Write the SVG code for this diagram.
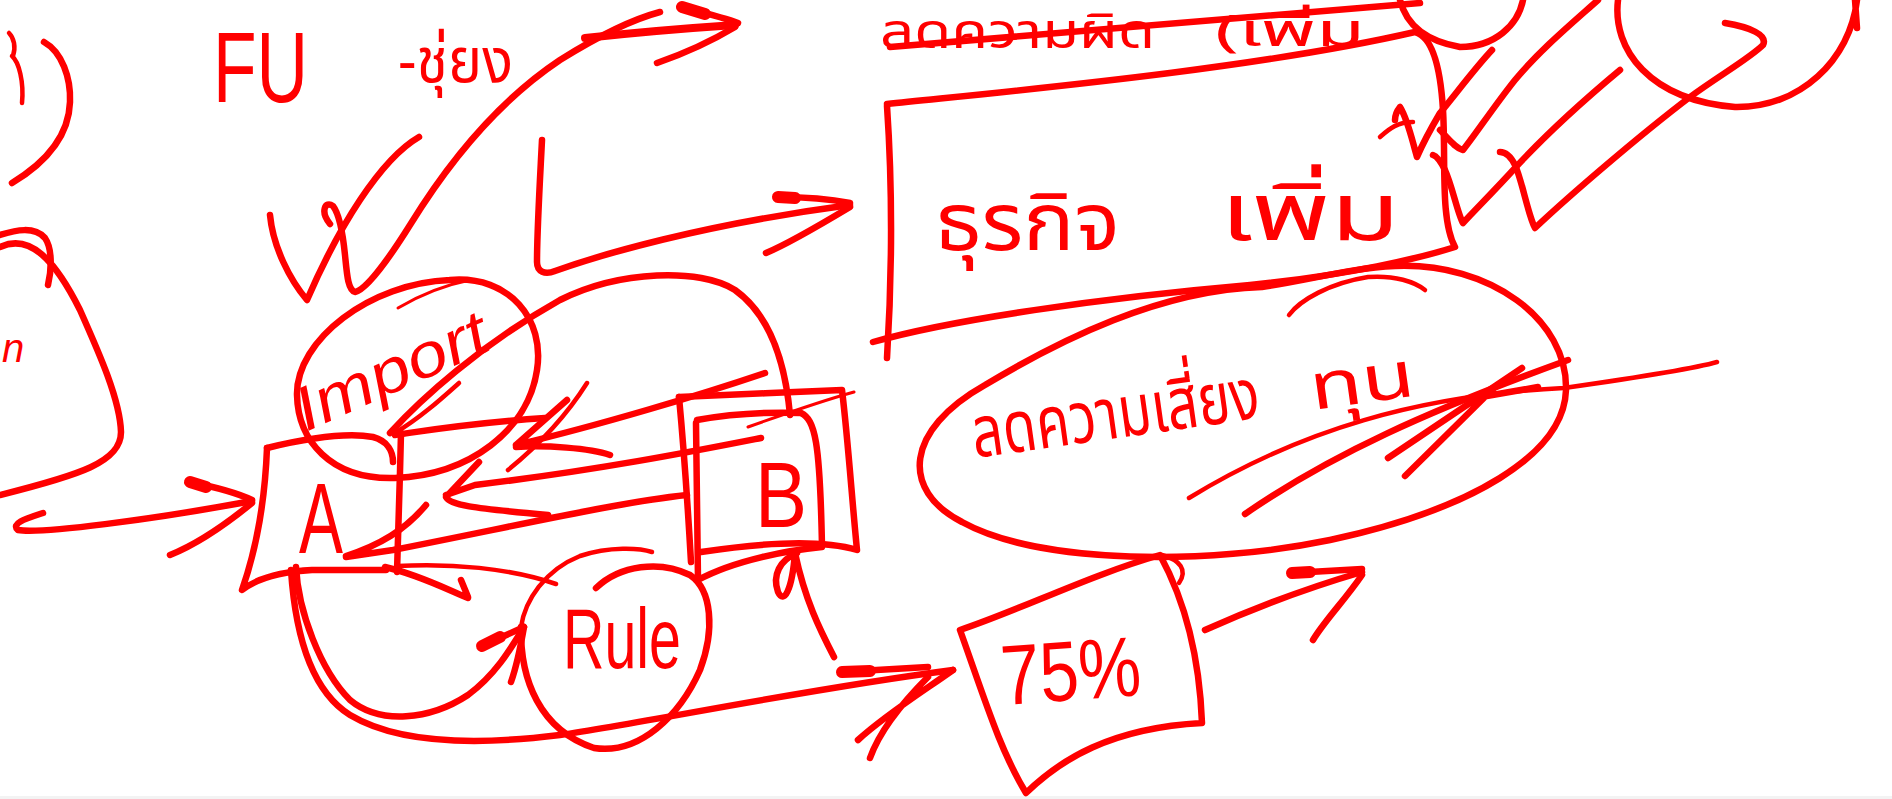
<svg xmlns="http://www.w3.org/2000/svg" width="1892" height="799" viewBox="0 0 1892 799">
<style>
.s{fill:none;stroke:#ff0000;stroke-linecap:round;stroke-linejoin:round}
.w2{stroke-width:3}.w3{stroke-width:4.5}.w5{stroke-width:6.5}.w7{stroke-width:8}.w10{stroke-width:12}
.t{fill:#ff0000;font-family:'Liberation Sans','DejaVu Sans',sans-serif}
.th{fill:#ff0000;font-family:'Noto Sans Thai','Noto Sans','DejaVu Sans',sans-serif}
</style>
<rect x="0" y="0" width="1892" height="799" fill="#ffffff"/>
<rect x="0" y="796" width="1892" height="3" fill="#f3f3f3"/>

<g id="left-fragments">
<path class="s w3" d="M9,33 C14,38 16,47 13,56 M12,56 C19,62 24,82 22,103"/>
<path class="s w5" d="M44,42 C62,52 71,78 70,102 C69,132 50,160 12,183"/>
<path class="s w5" d="M0,235 C16,230 34,226 45,238 C52,248 52,268 48,285"/>
<path class="s w5" d="M0,247 C30,233 55,260 80,310 C100,355 120,400 121,432 C121,462 80,475 0,495"/>
<text class="t" x="2" y="362" font-size="40" font-style="italic">n</text>
</g>

<g id="title-fu">
<text class="t" x="213" y="102" font-size="100" textLength="95" lengthAdjust="spacingAndGlyphs">FU</text>
<text class="th" x="398" y="82" font-size="62" textLength="115" lengthAdjust="spacingAndGlyphs">-ชุ่ยง</text>
</g>

<g id="node-box-top">
<path class="s w5" d="M887,104 C1000,92 1250,70 1415,32 C1430,36 1440,60 1443,110 C1446,160 1440,220 1455,247 C1420,258 1350,275 1250,285 C1100,298 950,320 873,342"/>
<path class="s w5" d="M887,106 C892,180 893,260 887,358"/>
<text class="th" x="935" y="250" font-size="80" textLength="185" lengthAdjust="spacingAndGlyphs">ธุรกิจ</text>
<text class="th" x="1220" y="240" font-size="80" textLength="180" lengthAdjust="spacingAndGlyphs">เพิ่ม</text>
</g>

<g id="struck-text">
<text class="th" x="880" y="48" font-size="48" textLength="275" lengthAdjust="spacingAndGlyphs">ลดความผิด</text>
<text class="th" x="1215" y="46" font-size="44" textLength="150" lengthAdjust="spacingAndGlyphs">(เพิ่ม</text>
<path class="s w5" d="M890,47 L1420,3"/>
</g>

<g id="node-top-circles">
<path class="s w5" d="M1400,0 C1405,20 1420,40 1460,47 C1495,47 1518,25 1523,0"/>
<path class="s w5" d="M1618,0 C1612,50 1650,100 1735,107 C1800,108 1850,60 1857,0 M1855,0 L1857,28"/>
</g>

<g id="node-import">
<path class="s w5" d="M450,280 C510,275 545,320 537,370 C528,430 470,475 395,478 C330,480 298,440 297,395 C296,340 370,283 450,280"/>
<path class="s w2" d="M398,308 C420,295 445,285 470,280"/>
<text class="t" x="306" y="432" font-size="62" font-style="italic" textLength="205" lengthAdjust="spacingAndGlyphs" transform="rotate(-24 306 432)">Import</text>
</g>

<g id="node-a">
<path class="s w5" d="M267,448 C300,440 345,432 373,437 C388,441 393,452 393,462"/>
<path class="s w5" d="M267,448 C265,500 256,550 242,590 C255,580 275,572 312,570 L386,570"/>
<text class="t" x="299" y="553" font-size="100" textLength="44" lengthAdjust="spacingAndGlyphs">A</text>
</g>

<g id="node-b">
<path class="s w5" d="M679,397 C730,395 790,392 842,390 C848,440 852,500 857,550 C830,542 780,540 701,552"/>
<path class="s w5" d="M679,397 C684,450 688,510 691,562"/>
<path class="s w5" d="M697,420 C730,414 770,412 801,413 C815,420 820,440 822,547 C790,550 735,560 698,580 L696,423"/>
<text class="t" x="755" y="527" font-size="92" textLength="52" lengthAdjust="spacingAndGlyphs">B</text>
</g>

<g id="node-rule">
<path class="s w5" d="M521,627 C520,680 540,730 594,748 C640,755 680,715 700,670 C715,630 712,590 690,575 C660,560 620,565 596,588"/>
<path class="s w3" d="M521,627 C525,600 545,570 580,556 C610,546 640,548 652,552"/>
<text class="t" x="563" y="668" font-size="85" textLength="118" lengthAdjust="spacingAndGlyphs">Rule</text>
</g>

<g id="node-ellipse">
<path class="s w5" d="M1395,266 C1490,262 1568,320 1566,390 C1564,455 1470,510 1330,540 C1210,565 1040,565 962,522 C900,490 905,430 985,385 C1060,340 1160,290 1262,287 C1310,280 1350,268 1395,266 Z"/>
<path class="s w3" d="M1289,315 C1300,300 1330,283 1368,277 C1395,275 1415,282 1425,290"/>
<text class="th" x="975" y="458" font-size="72" textLength="290" lengthAdjust="spacingAndGlyphs" transform="rotate(-8 975 458)">ลดความเสี่ยง</text>
<text class="th" x="1313" y="410" font-size="64" textLength="105" lengthAdjust="spacingAndGlyphs" transform="rotate(-8 1313 410)">ทุน</text>
</g>

<g id="node-75">
<path class="s w5" d="M960,630 C985,700 1000,750 1026,793 C1060,760 1110,728 1202,723 C1200,670 1190,610 1160,555 C1090,575 1020,610 960,630 Z"/>
<path class="s w3" d="M1162,555 C1180,560 1188,570 1179,583"/>
<text class="t" x="1003" y="705" font-size="85" textLength="140" lengthAdjust="spacingAndGlyphs" transform="rotate(-4 1003 705)">75%</text>
</g>

<g id="connectors">
<path class="s w5" d="M270,215 C273,247 290,280 307,300 C320,270 340,230 360,200 C380,170 400,148 419,137"/>
<path class="s w5" d="M330,224 C320,212 325,200 333,206 C340,215 343,235 345,255 C347,275 348,290 355,292 C365,290 385,265 410,225 C450,160 500,100 560,60 C600,35 630,20 660,12"/>
<path class="s w7" d="M585,38 C640,32 690,28 735,25"/>
<path class="s w10" d="M682,7 L705,14"/>
<path class="s w5" d="M682,7 C705,13 725,18 738,23 M735,27 C710,42 680,55 657,63"/>
<path class="s w5" d="M542,140 C540,180 537,230 537,262 C537,272 545,275 555,271 C600,255 700,225 850,205"/>
<path class="s w10" d="M778,197 L795,198"/>
<path class="s w5" d="M778,197 C800,197 830,199 850,203 M850,207 C820,225 790,243 766,253"/>
<path class="s w5" d="M43,513 C28,518 10,523 18,530 C40,534 150,520 252,501"/>
<path class="s w10" d="M190,482 L206,487"/>
<path class="s w5" d="M190,482 C215,487 235,492 252,500 M252,503 C225,525 195,545 170,555"/>
<path class="s w5" d="M401,433 C400,480 398,530 397,572"/>
<path class="s w5" d="M395,435 C430,430 470,423 545,418"/>
<path class="s w3" d="M459,383 C440,400 420,418 395,433"/>
<path class="s w5" d="M390,433 C420,400 480,345 560,300 C620,270 700,268 735,290 C770,315 785,360 790,415"/>
<path class="s w5" d="M765,373 C700,395 600,425 516,445 M567,400 L516,445 M516,447 C545,445 590,448 610,455"/>
<path class="s w3" d="M587,383 C570,410 545,440 508,470"/>
<path class="s w5" d="M761,438 C700,450 600,470 475,485 L446,495 M479,462 L446,497 C450,505 470,508 548,515"/>
<path class="s w5" d="M687,495 C620,502 520,525 393,550 L346,557 M426,505 C405,530 380,545 346,556"/>
<path class="s w2" d="M748,427 C790,412 825,400 854,392"/>
<path class="s w5" d="M797,553 C780,560 772,575 778,592 C784,605 792,590 795,553 C805,600 820,630 834,657"/>
<path class="s w3" d="M397,566 C450,563 510,568 556,584"/>
<path class="s w5" d="M385,567 C420,575 448,590 468,598 M461,580 L468,597"/>
<path class="s w5" d="M296,567 C298,610 320,670 350,700 C380,725 430,720 468,695 C495,675 510,650 524,627"/>
<path class="s w10" d="M482,646 L500,637"/>
<path class="s w5" d="M482,646 L524,627 C520,650 516,668 511,682"/>
<path class="s w5" d="M291,570 C295,630 310,690 350,715 C400,745 480,745 560,735 C650,722 800,690 953,670"/>
<path class="s w10" d="M842,672 L870,671"/>
<path class="s w5" d="M842,672 L928,667 M953,670 C925,690 885,715 858,740 M928,677 C905,700 880,730 870,758"/>
<path class="s w5" d="M1205,630 C1250,610 1300,590 1362,572"/>
<path class="s w10" d="M1292,573 L1310,572"/>
<path class="s w5" d="M1292,573 L1362,569 M1362,575 C1345,600 1325,620 1313,640"/>
<path class="s w5" d="M1725,23 C1750,27 1768,35 1763,45 C1750,58 1720,75 1690,97 C1640,135 1570,195 1535,228 C1528,215 1522,180 1515,165 C1510,155 1505,152 1500,152"/>
<path class="s w5" d="M1620,70 C1590,95 1550,130 1515,168 C1495,190 1475,210 1463,223 C1458,215 1452,185 1445,170 C1440,160 1436,156 1433,155"/>
<path class="s w5" d="M1598,0 C1570,25 1540,50 1515,80 C1495,105 1475,135 1463,150 C1455,148 1448,138 1440,130"/>
<path class="s w5" d="M1492,50 C1475,68 1455,95 1440,113 C1430,130 1420,150 1417,157 C1412,140 1408,120 1400,107 C1396,112 1395,118 1395,120"/>
<path class="s w3" d="M1380,137 C1390,128 1398,122 1413,122"/>
<path class="s w3" d="M1189,498 C1300,430 1420,395 1564,388 C1620,380 1690,370 1717,362"/>
<path class="s w5" d="M1245,514 C1330,455 1430,410 1568,360"/>
<path class="s w5" d="M1388,458 L1522,368 M1405,476 L1496,386 M1481,397 L1538,387"/>
</g>
</svg>
